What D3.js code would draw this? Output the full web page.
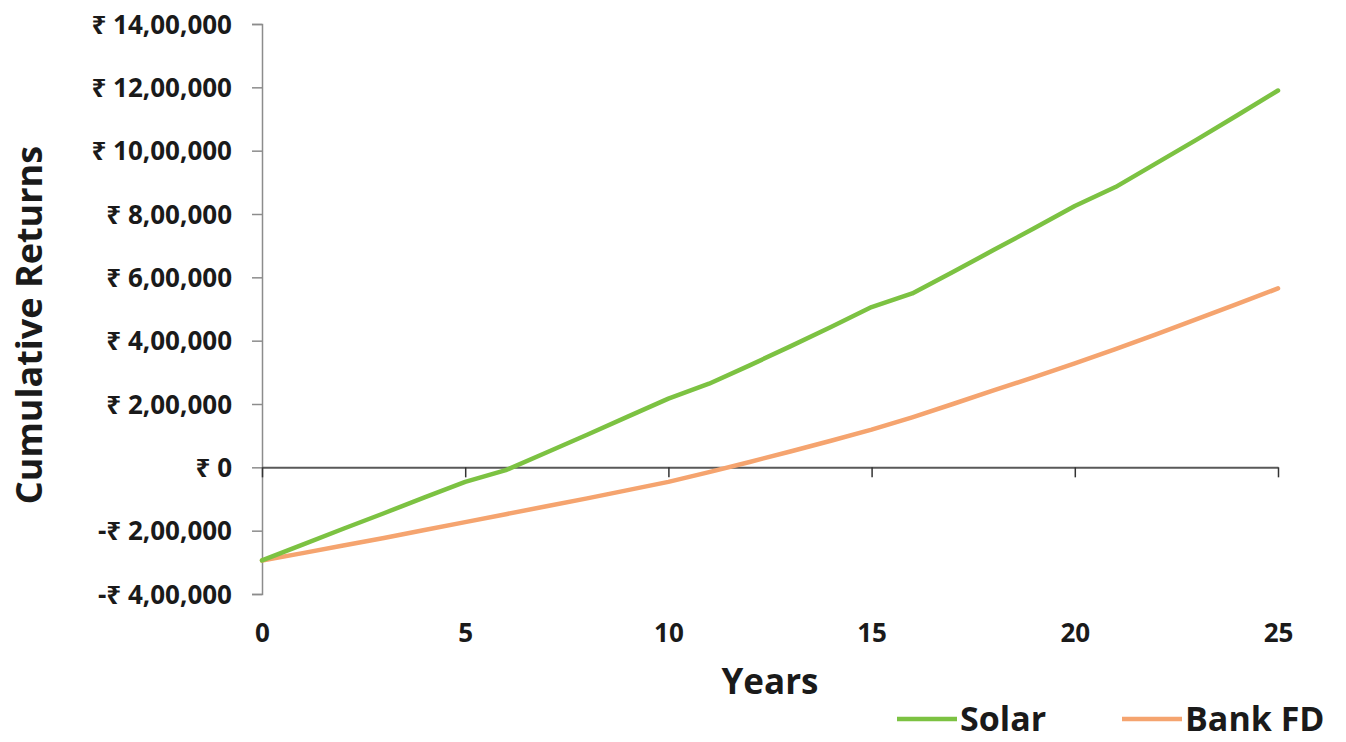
<!DOCTYPE html>
<html>
<head>
<meta charset="utf-8">
<script src="https://cdnjs.cloudflare.com/ajax/libs/d3/7.8.5/d3.min.js"></script>
<style>
    body { margin: 0; background: #fff; }
    svg text { font-family: "Open Sans", "Noto Sans", sans-serif; font-weight: 700; fill: #1a1a1a; }
</style>
</head>
<body>
<svg width="1346" height="742"></svg>
<script>
// years on the x axis
var years = d3.range(0, 26);

// cumulative returns, in rupees
var solar = [-294000, -244000, -194000, -145000, -95000, -46000, -9000, 47000, 103000, 160000,
    217000, 264000, 322000, 382000, 443000, 506000, 549000, 617000, 686000, 755000,
    825000, 885000, 960000, 1035000, 1112000, 1190000];
var bankFD = [-294000, -271000, -247000, -223000, -198000, -173000, -148000, -123000, -98000, -72000,
    -46000, -15000, 17000, 50000, 84000, 119000, 158000, 200000, 243000, 285000,
    328000, 373000, 420000, 468000, 516000, 565000];

var seriesNames = ["Solar", "Bank FD"];
var yTicks = [-400000, -200000, 0, 200000, 400000, 600000, 800000, 1000000, 1200000, 1400000];
var xTicks = [0, 5, 10, 15, 20, 25];

var colors = { "Solar": "#7cc242", "Bank FD": "#f5a46f" };

// indian digit grouping, eg 14,00,000
function rupee(v) {
    if (v == 0) return "₹ 0";
    var s = String(Math.abs(v));
    var last3 = s.slice(-3), rest = s.slice(0, -3);
    if (rest.length) last3 = "," + last3;
    rest = rest.replace(/\B(?=(\d{2})+(?!\d))/g, ",");
    return (v < 0 ? "-" : "") + "₹ " + rest + last3;
}

function renderMyChart() {
    var svg = d3.select("svg"),
        margin = { top: 24, right: 68, bottom: 148, left: 262 },
        width = +svg.attr("width") - margin.left - margin.right,
        height = +svg.attr("height") - margin.top - margin.bottom;

    var x = d3.scaleLinear().domain([0, 25]).range([0, width]),
        y = d3.scaleLinear().domain([-400000, 1400000]).range([height, 0]);

    var g = svg.append("g")
        .attr("transform", "translate(" + margin.left + "," + margin.top + ")");

    // y axis with ticks on the outside
    var yAxis = g.append("g")
        .call(d3.axisLeft(y).tickValues(yTicks).tickSize(10).tickPadding(20).tickFormat(rupee));
    yAxis.select(".domain").attr("stroke", "#8c8c8c").attr("stroke-width", 1.5);
    yAxis.selectAll(".tick line").attr("stroke", "#8c8c8c").attr("stroke-width", 1.5);
    yAxis.selectAll(".tick text").style("font-size", "26px").attr("dy", "0.35em");

    // x axis sits on the zero line
    var xAxis = g.append("g")
        .attr("transform", "translate(0," + y(0) + ")")
        .call(d3.axisBottom(x).tickValues(xTicks).tickSize(10).tickSizeOuter(0));
    xAxis.select(".domain").attr("stroke", "#595959").attr("stroke-width", 2);
    xAxis.selectAll(".tick line").attr("stroke", "#333").attr("stroke-width", 1.5);
    // tick labels go below the plot, not under the zero line
    xAxis.selectAll(".tick text")
        .attr("y", height - y(0) + 30)
        .attr("dy", "0.71em")
        .style("font-size", "26px");

    svg.append("text")
        .attr("transform", "translate(42,325) rotate(-90)")
        .attr("text-anchor", "middle")
        .style("font-size", "36px")
        .text("Cumulative Returns");

    svg.append("text")
        .attr("x", margin.left + x(12.5))
        .attr("y", 694)
        .attr("text-anchor", "middle")
        .style("font-size", "35px")
        .text("Years");

    var line = d3.line()
        .x(function (d, i) { return x(years[i]); })
        .y(function (d) { return y(d); });

    var data = { "Solar": solar, "Bank FD": bankFD };

    g.selectAll(".series")
        .data(seriesNames.slice().reverse())
        .enter().append("path")
        .attr("class", "series")
        .attr("fill", "none")
        .attr("stroke", function (d) { return colors[d]; })
        .attr("stroke-width", 4.5)
        .attr("stroke-linejoin", "round")
        .attr("stroke-linecap", "round")
        .attr("d", function (d) { return line(data[d]); });

    // legend
    var legendX = [897, 1122];
    var legend = svg.selectAll(".legend")
        .data(seriesNames)
        .enter().append("g")
        .attr("class", "legend")
        .attr("transform", function (d, i) { return "translate(" + legendX[i] + ",719)"; });

    legend.append("line")
        .attr("x1", 0).attr("x2", 60)
        .attr("stroke", function (d) { return colors[d]; })
        .attr("stroke-width", 4.5);

    legend.append("text")
        .attr("x", 63)
        .attr("dy", "0.35em")
        .style("font-size", "34px")
        .text(function (d) { return d; });
}

renderMyChart();
</script>
</body>
</html>
